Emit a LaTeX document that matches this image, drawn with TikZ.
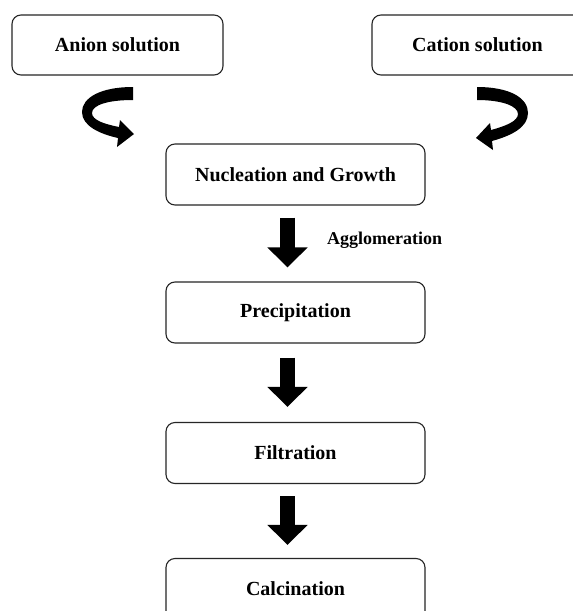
\documentclass[tikz,border=0pt]{standalone}
\usepackage{fontspec}
\setmainfont{Liberation Serif}
\usetikzlibrary{arrows.meta}
\tikzset{
  box/.style={draw=black!85, line width=1.1pt, rounded corners=9pt, fill=white,
    minimum width=259pt, minimum height=61pt, inner sep=0pt,
    font=\fontsize{20}{24}\selectfont\bfseries},
  topbox/.style={box, minimum width=211pt, minimum height=60pt},
  blockarrow/.style={line width=15pt, black, -{Triangle[length=20pt,width=39pt]}},
  curvearrow/.style={fill=black}
}
\begin{document}
\begin{tikzpicture}[x=1pt,y=-1pt]
\clip (0,0) rectangle (573,611);
\fill[white] (0,0) rectangle (573,611);
\node[topbox] (anion) at (117.5,45) {Anion solution};
\node[topbox] (cation) at (477.5,45) {Cation solution};
\node[box] (nuc) at (295.5,174.5) {Nucleation and Growth};
\node[box] (pre) at (295.5,312.5) {Precipitation};
\node[box] (fil) at (295.5,453) {Filtration};
\node[box] (cal) at (295.5,589) {Calcination};
\node[anchor=west, inner sep=0pt, font=\fontsize{18}{21}\selectfont\bfseries] (agg) at (327,240) {Agglomeration};
% block arrows
\draw[blockarrow] ([xshift=-8pt,yshift=-12pt]nuc.south) -- ([xshift=-8pt,yshift=14pt]pre.north);
\draw[blockarrow] ([xshift=-8pt,yshift=-14pt]pre.south) -- ([xshift=-8pt,yshift=15pt]fil.north);
\draw[blockarrow] ([xshift=-8pt,yshift=-12pt]fil.south) -- ([xshift=-8pt,yshift=13pt]cal.north);
% curved arrows
\fill[curvearrow] (133,87) .. controls (100,87) and (82,98) .. (82,112)
  .. controls (82,126) and (100,134) .. (118,138) -- (117,147) -- (134,134) -- (120,120) -- (119,127)
  .. controls (104,124) and (92,120) .. (92,113)
  .. controls (92,105) and (108,100) .. (133,100) -- cycle;
\fill[curvearrow] (477,87) .. controls (510,87) and (528,98) .. (528,113)
  .. controls (528,128) and (510,136) .. (492,141) -- (493,150) -- (476,138) -- (490,123) -- (491,130)
  .. controls (506,126) and (518,121) .. (518,114)
  .. controls (518,106) and (502,100) .. (477,100) -- cycle;
\end{tikzpicture}
\end{document}
